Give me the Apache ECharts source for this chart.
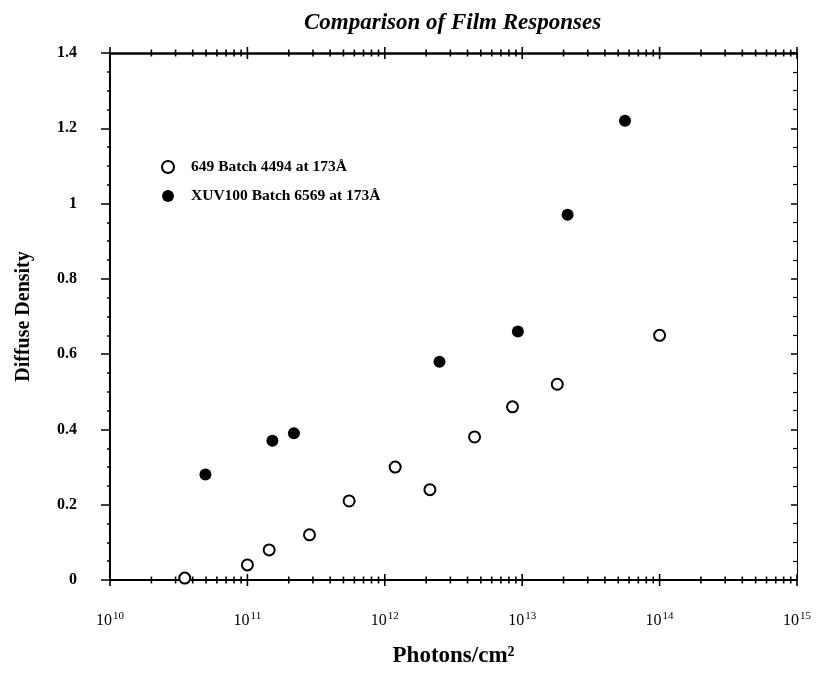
<!DOCTYPE html>
<html><head><meta charset="utf-8">
<script src="https://cdn.jsdelivr.net/npm/echarts@6/dist/echarts.min.js"></script>
<style>html,body{margin:0;padding:0;background:#fff}#c{width:823px;height:673px}</style>
</head><body><div id="c"></div>
<script>
// ---- data ----
const titleText = 'Comparison of Film Responses';
const xAxisName = 'Photons/cm\u00B2';
const yAxisName = 'Diffuse Density';
const seriesNames = ['649 Batch 4494 at 173\u00C5', 'XUV100 Batch 6569 at 173\u00C5'];

const film649Photons = [3.5e10, 1.0e11, 1.44e11, 2.83e11, 5.5e11, 1.19e12, 2.13e12, 4.5e12, 8.5e12, 1.8e13, 1.0e14];
const film649Density = [0.005, 0.04, 0.08, 0.12, 0.21, 0.30, 0.24, 0.38, 0.46, 0.52, 0.65];

const xuv100Photons = [4.95e10, 1.52e11, 2.18e11, 2.5e12, 9.3e12, 2.14e13, 5.6e13];
const xuv100Density = [0.28, 0.37, 0.39, 0.58, 0.66, 0.97, 1.22];

const xMin = 1e10, xMax = 1e15;
const yMin = 0, yMax = 1.4, yInterval = 0.2;
const decadeExponents = [10, 11, 12, 13, 14, 15];
const minorMultipliers = [2, 3, 4, 5, 6, 7, 8, 9];

// axis tick decorations (major decades and 2..9 minors)
const xTickMarks = [];
decadeExponents.forEach(function (e) {
  xTickMarks.push([Math.pow(10, e), 0, 1]);
  if (e < 15) minorMultipliers.forEach(function (m) { xTickMarks.push([m * Math.pow(10, e), 0, 0]); });
});

const pair = (xs, ys) => xs.map((x, i) => [x, ys[i]]);

const serif = '"Liberation Serif", "DejaVu Serif", serif';
const chart = echarts.init(document.getElementById('c'));
chart.setOption({
  animation: false,
  backgroundColor: '#fff',
  title: {
    text: titleText, left: 299, top: 7,
    textStyle: { fontFamily: serif, fontWeight: 'bold', fontStyle: 'italic', fontSize: 23, color: '#000' }
  },
  legend: {
    data: seriesNames, orient: 'vertical', left: 161, top: 159, padding: 0,
    itemWidth: 12, itemHeight: 12, itemGap: 13,
    textStyle: { fontFamily: serif, fontWeight: 'bold', fontSize: 15.5, color: '#000', padding: [0, 0, 0, 12] }
  },
  grid: { left: 110, right: 26, top: 53, bottom: 92 },
  xAxis: [{
    type: 'log', logBase: 10, min: xMin, max: xMax, position: 'bottom',
    name: xAxisName, nameLocation: 'middle', nameGap: 65,
    nameTextStyle: { fontFamily: serif, fontWeight: 'bold', fontSize: 23, color: '#000' },
    axisLine: { show: true, onZero: false, lineStyle: { color: '#000', width: 2 } },
    axisTick: { show: false },
    splitLine: { show: false },
    axisLabel: {
      margin: 31, color: '#000',
      formatter: function (v) { return '{b|10}{s|' + Math.round(Math.log10(v)) + '}'; },
      rich: {
        b: { fontFamily: serif, fontSize: 16, color: '#000' },
        s: { fontFamily: serif, fontSize: 11, color: '#000', padding: [0, 0, 9, 1] }
      }
    }
  }, {
    type: 'log', logBase: 10, min: xMin, max: xMax, position: 'top',
    axisLine: { show: true, onZero: false, lineStyle: { color: '#000', width: 2.5 } },
    axisTick: { show: false }, axisLabel: { show: false }, splitLine: { show: false }
  }],
  yAxis: [{
    type: 'value', min: yMin, max: yMax, interval: yInterval, position: 'left',
    name: yAxisName, nameLocation: 'middle', nameGap: 76,
    nameTextStyle: { fontFamily: serif, fontWeight: 'bold', fontSize: 20, color: '#000' },
    axisLine: { show: true, onZero: false, lineStyle: { color: '#000', width: 2 } },
    axisTick: { show: true, inside: false, length: 9, lineStyle: { color: '#000', width: 1.5 } },
    minorTick: { show: true, splitNumber: 4, length: 3, lineStyle: { color: '#000', width: 1.5 } },
    splitLine: { show: false },
    axisLabel: { margin: 33, fontFamily: serif, fontWeight: 'bold', fontSize: 16, color: '#000' }
  }, {
    type: 'value', min: yMin, max: yMax, interval: yInterval, position: 'right',
    axisLine: { show: true, onZero: false, lineStyle: { color: '#000', width: 1 } },
    axisTick: { show: true, inside: true, length: 6, lineStyle: { color: '#000', width: 1.5 } },
    minorTick: { show: true, splitNumber: 4, length: 4, lineStyle: { color: '#000', width: 1.2 } },
    splitLine: { show: false }, axisLabel: { show: false }
  }],
  series: [{
    name: seriesNames[0], type: 'scatter', xAxisIndex: 0, yAxisIndex: 0,
    symbol: 'emptyCircle', symbolSize: 11,
    itemStyle: { color: '#000', borderColor: '#000', borderWidth: 2, opacity: 1 },
    data: pair(film649Photons, film649Density), z: 5
  }, {
    name: seriesNames[1], type: 'scatter', xAxisIndex: 0, yAxisIndex: 0,
    symbol: 'circle', symbolSize: 12,
    itemStyle: { color: '#000', opacity: 1 },
    data: pair(xuv100Photons, xuv100Density), z: 5
  }, {
    name: 'xticks', type: 'custom', xAxisIndex: 0, yAxisIndex: 0, silent: true, clip: false, z: 10,
    encode: { x: 0, y: 1 },
    data: xTickMarks,
    renderItem: function (params, api) {
      const v = api.value(0);
      const pb = api.coord([v, yMin]);
      const pt = api.coord([v, yMax]);
      const h = api.value(2) === 1 ? 6 : 3.5;
      const st = { stroke: '#000', lineWidth: 1.6 };
      return { type: 'group', children: [
        { type: 'line', shape: { x1: pb[0], y1: pb[1] - h, x2: pb[0], y2: pb[1] + h }, style: st },
        { type: 'line', shape: { x1: pt[0], y1: pt[1] - h, x2: pt[0], y2: pt[1] + h }, style: st }
      ] };
    }
  }]
});
</script></body></html>
